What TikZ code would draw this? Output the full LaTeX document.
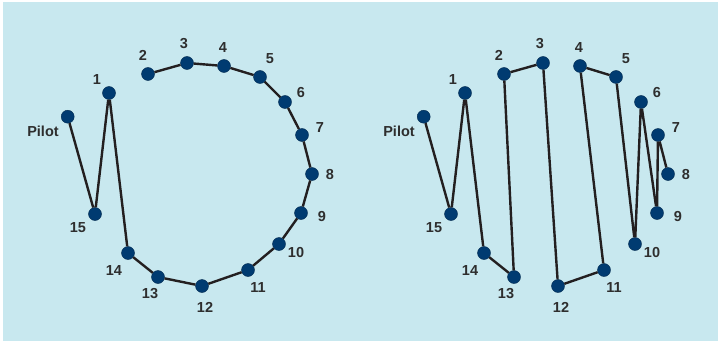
\documentclass[tikz,border=0pt]{standalone}
\usepackage{fontspec}
\setmainfont{Liberation Sans}
\usetikzlibrary{positioning}
\definecolor{bgblue}{HTML}{C8E8EF}
\definecolor{dotblue}{HTML}{003B71}
\definecolor{linegray}{HTML}{231F20}
\definecolor{textgray}{HTML}{2E2E2E}

\begin{document}
\begin{tikzpicture}[x=1pt,y=-1pt,
    dot/.style={circle,fill=dotblue,draw=dotblue!70!black,line width=0.4pt,minimum size=13pt,inner sep=0pt},
    num/.style={font=\bfseries\fontsize{14.5}{14.5}\selectfont,text=textgray,inner sep=0pt},
    tour/.style={draw=linegray,line width=2.4pt,line join=round}]
    \fill[white] (0,0) rectangle (719,342);
    \fill[bgblue] (2.5,2.5) rectangle (717.5,340.5);

    % same stops in both panels, right one shifted
    \foreach \p/\dx in {L/0,R/356}{
        \foreach \n/\x/\y/\lx/\ly/\t in {0/67.7/116.7/43/131/Pilot,1/109/93/97/80/1,2/148/74/143/55/2,
            3/187/63/184/44/3,4/224/66/223/48/4,5/260/77/270/59/5,6/285/102/301/93/6,
            7/302/135/320/128/7,8/312/174/330/175/8,9/301/213/322/217/9,10/279/244/296/253/10,
            11/248/270/258/288/11,12/202/286/205/307/12,13/158/277/150/294/13,
            14/128/253/114/271/14,15/95/214/78/228/15}{
            \node[dot] (\p\n) at (\x+\dx,\y) {};
            \node[num] (\p t\n) at (\lx+\dx,\ly) {\t};
        }
    }

    % around the ring
    \draw[tour] (L0) -- (L15) -- (L1) -- (L14) -- (L13) -- (L12) -- (L11) -- (L10)
        -- (L9) -- (L8) -- (L7) -- (L6) -- (L5) -- (L4) -- (L3) -- (L2);
    % back and forth
    \draw[tour] (R0) -- (R15) -- (R1) -- (R14) -- (R13) -- (R2) -- (R3) -- (R12)
        -- (R11) -- (R4) -- (R5) -- (R10) -- (R6) -- (R9) -- (R7) -- (R8);
\end{tikzpicture}
\end{document}
